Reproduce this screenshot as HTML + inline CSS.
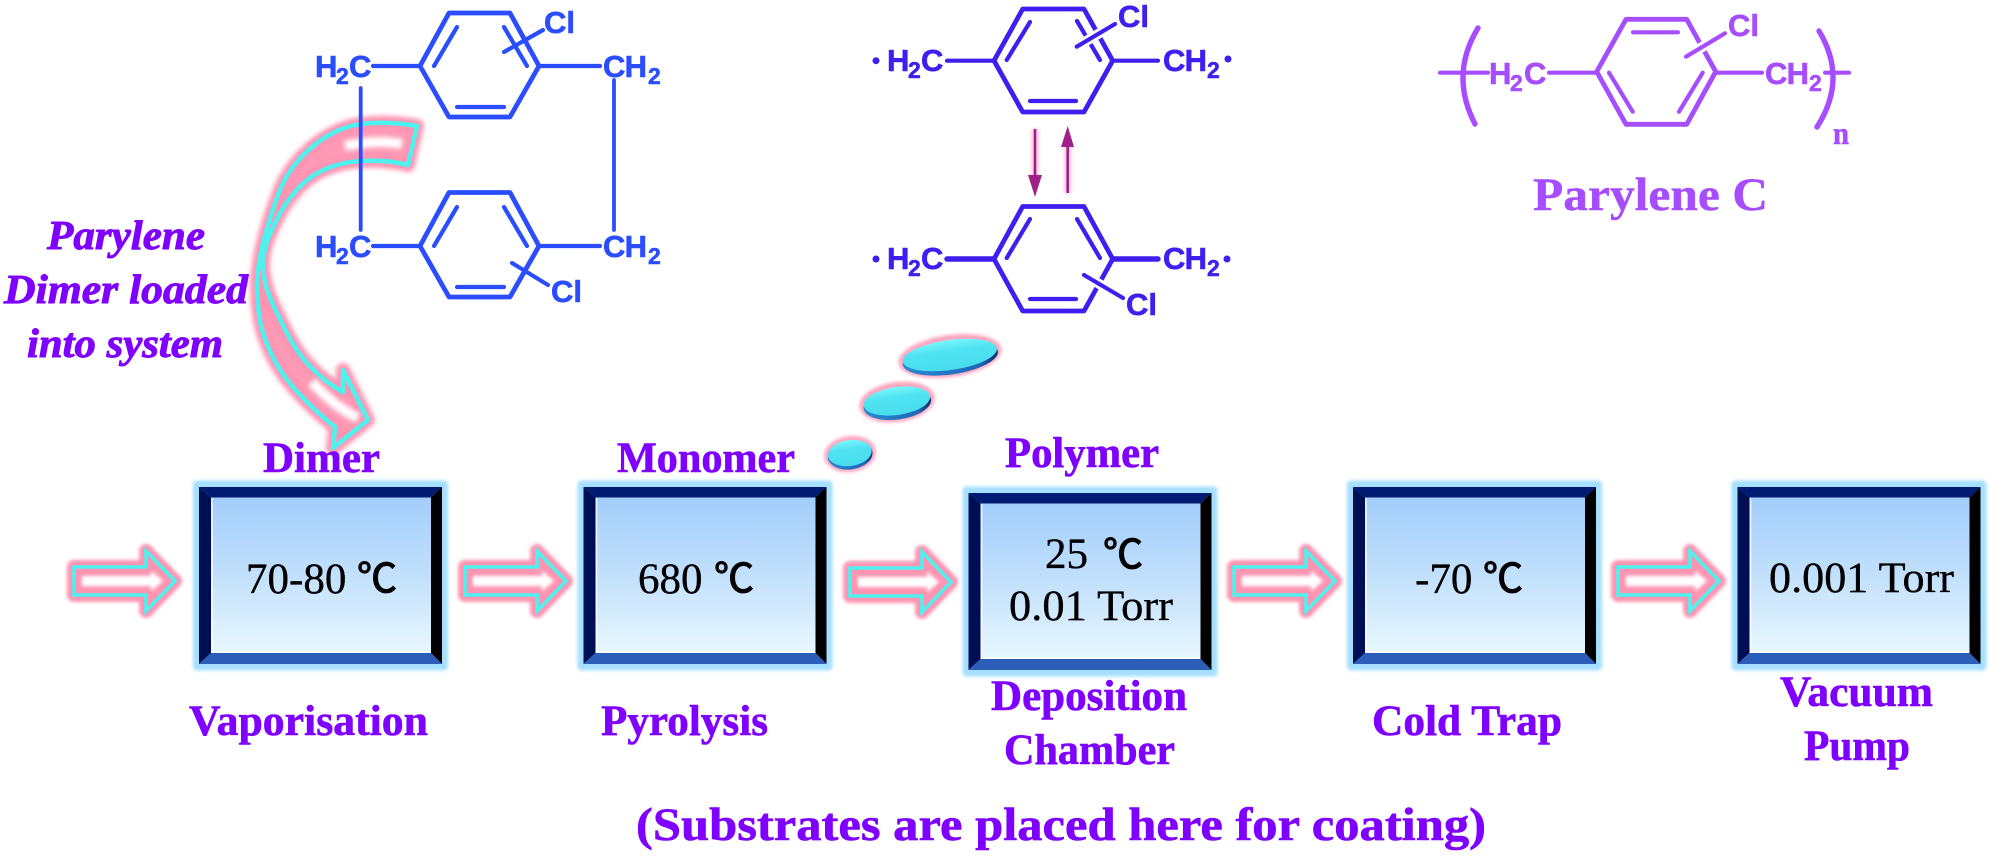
<!DOCTYPE html>
<html>
<head>
<meta charset="utf-8">
<style>
html,body{margin:0;padding:0;background:#fff;}
svg{display:block;}
.lab{font-family:"Liberation Serif",serif;font-weight:bold;font-size:43px;fill:#7f00ff;stroke:#7f00ff;stroke-width:.6px;}
.it{font-family:"Liberation Serif",serif;font-weight:bold;font-style:italic;font-size:41px;fill:#7f00ff;stroke:#7f00ff;stroke-width:.9px;}
.val{font-family:"Liberation Serif",serif;font-size:43px;fill:#000;stroke:#000;stroke-width:.35px;}
.deg{font-family:"Noto Sans CJK SC","WenQuanYi Zen Hei",sans-serif;font-size:40px;fill:#000;stroke:#000;stroke-width:1.1px;}
.chem{font-family:"Liberation Sans",sans-serif;font-weight:bold;font-size:31px;stroke-width:.6px;}
.sub{font-family:"Liberation Sans",sans-serif;font-weight:bold;font-size:23px;stroke-width:.5px;}
.cb{fill:#2a4dff;stroke:#2a4dff;} .cm{fill:#3f1fef;stroke:#3f1fef;} .cp{fill:#a64dff;stroke:#a64dff;}
</style>
</head>
<body>
<svg xmlns="http://www.w3.org/2000/svg" width="1989" height="857" viewBox="0 0 1989 857">
<defs>
<filter id="b2" filterUnits="userSpaceOnUse" x="-2000" y="-2000" width="6000" height="6000"><feGaussianBlur stdDeviation="2.5"/></filter>
<filter id="b1" filterUnits="userSpaceOnUse" x="-2000" y="-2000" width="6000" height="6000"><feGaussianBlur stdDeviation="1.5"/></filter>
<filter id="b3" filterUnits="userSpaceOnUse" x="-2000" y="-2000" width="6000" height="6000"><feGaussianBlur stdDeviation="3.5"/></filter>
<linearGradient id="boxg" x1="0" y1="0" x2="0" y2="1">
<stop offset="0" stop-color="#a2cdfb"/><stop offset="0.5" stop-color="#c2e0fc"/><stop offset="1" stop-color="#e8f7ff"/>
</linearGradient>
<linearGradient id="ov" x1="0" y1="0" x2="0" y2="1">
<stop offset="0" stop-color="#7af6fb"/><stop offset="0.35" stop-color="#50e4f2"/><stop offset="1" stop-color="#48dcee"/>
</linearGradient>
<linearGradient id="rim" x1="0" y1="0" x2="1" y2="0">
<stop offset="0" stop-color="#2a8ad0"/><stop offset=".8" stop-color="#1f66b8"/><stop offset="1" stop-color="#0a2a60"/>
</linearGradient>
<g id="box">
<rect x="-6" y="-6.5" width="255" height="190" rx="4" fill="#a5dfff" filter="url(#b1)"/>
<polygon points="0,0 243,0 232,10.5 12,10.5" fill="#001c72"/>
<polygon points="0,0 12,10.5 12,166 0,177" fill="#000f55"/>
<polygon points="243,0 243,177 232,166 232,10.5" fill="#000"/>
<polygon points="0,177 12,166 232,166 243,177" fill="#2b5db9"/>
<rect x="12" y="10.5" width="220" height="155.5" fill="url(#boxg)"/>
<path d="M13,11 V165 H231" fill="none" stroke="#fff" stroke-width="1.6" opacity=".8"/>
</g>
<g id="arr">
<path d="M-101,-14 H-29 V-30 L0,0 L-29,30 V14 H-101 Z" fill="#ff9ab6" stroke="#ff94b2" stroke-width="14" stroke-linejoin="round" filter="url(#b1)"/>
<path d="M-93,-5 H-24 V-10 L-12,0 L-24,10 V5 H-93 Z" fill="#fff" filter="url(#b1)"/>
<path d="M-101,-14 H-29 V-30 L0,0 L-29,30 V14 H-101 Z" fill="none" stroke="#4df2ee" stroke-width="3.6"/>
</g>
</defs>
<rect width="1989" height="857" fill="#fff"/>

<!-- curved arrow -->
<g>
<path d="M417,126 C395,122 378,122 361,124 C325,129 290,160 278,195 C268,222 258,255 257,283 C257,305 259,320 263,333 C270,355 280,372 293,387 C307,403 320,415 335,427 L333,448 L368,420 L343,370 L343,392 C330,385 318,375 307,363 C295,350 285,330 277,313 C268,295 263,280 263,265 C263,250 268,238 273,227 C283,205 295,190 307,180 C322,168 342,162 361,161 C378,160 392,161 408,165 Z" fill="#ff9ab6" stroke="#ff94b2" stroke-width="14" stroke-linejoin="round" filter="url(#b2)"/>
<path d="M402,144 C385,141 370,141 345,146" fill="none" stroke="#fff" stroke-width="10" filter="url(#b2)"/>
<path d="M312,382 C328,400 345,412 358,418" fill="none" stroke="#fff" stroke-width="10" filter="url(#b2)"/>
<path d="M417,126 C395,122 378,122 361,124 C325,129 290,160 278,195 C268,222 258,255 257,283 C257,305 259,320 263,333 C270,355 280,372 293,387 C307,403 320,415 335,427 L333,448 L368,420 L343,370 L343,392 C330,385 318,375 307,363 C295,350 285,330 277,313 C268,295 263,280 263,265 C263,250 268,238 273,227 C283,205 295,190 307,180 C322,168 342,162 361,161 C378,160 392,161 408,165 Z" fill="none" stroke="#4df2ee" stroke-width="4.6" stroke-linejoin="round"/>
</g>

<!-- left molecule -->
<g fill="none" stroke="#2a4dff" stroke-width="4.2" stroke-linecap="round" stroke-linejoin="round">
<polygon points="449,13 510,13 539,66 510,117 449,117 420,66" stroke-width="4.8"/>
<path d="M457,27 L434,66 M504,27 L527,66 M457,107 H504 M504,52 L543,30 M373,66 H420 M540,66 H600"/>
<path d="M360.7,88 V230 M614,80 V230" stroke-width="3.8"/>
<polygon points="449,192.5 510,192.5 539,246 510,297 449,297 420,246" stroke-width="4.8"/>
<path d="M457,207 L434,246 M504,207 L527,246 M457,287 H504 M512,263 L548,285 M373,246 H420 M540,246 H600"/>
</g>
<g class="cb">
<text class="chem" x="315" y="77" textLength="22">H</text><text class="sub" x="336" y="84">2</text><text class="chem" x="349" y="77">C</text>
<text class="chem" x="603" y="77" textLength="44">CH</text><text class="sub" x="648" y="84">2</text>
<text class="chem" x="544" y="33">Cl</text>
<text class="chem" x="315" y="257" textLength="22">H</text><text class="sub" x="336" y="264">2</text><text class="chem" x="349" y="257">C</text>
<text class="chem" x="603" y="257" textLength="44">CH</text><text class="sub" x="648" y="264">2</text>
<text class="chem" x="551" y="302">Cl</text>
</g>

<!-- middle molecule -->
<g fill="none" stroke="#3f1fef" stroke-width="4.2" stroke-linecap="round" stroke-linejoin="round">
<polygon points="1022.7,9 1084,9 1112.7,60.7 1084,112 1022.7,112 994,60.7" stroke-width="4.8"/>
<path d="M1030,22 L1006.7,60 M1077,21 L1100,60 M1030,101 H1076 M947,60.7 H994 M1113,60.7 H1158"/>
<path d="M1076.7,46.7 L1115,24" stroke="#fff" stroke-width="10" stroke-linecap="butt"/>
<path d="M1076.7,46.7 L1115,24"/>
<polygon points="1022.7,206.5 1084,206.5 1112.7,259 1084,311 1022.7,311 994,259" stroke-width="4.8"/>
<path d="M1030,219 L1006.7,258 M1077,219 L1100,258 M1030,299 H1076"/>
<path d="M1084,275 L1123,298" stroke="#fff" stroke-width="10" stroke-linecap="butt"/>
<path d="M1084,275 L1123,298"/>
<path d="M947,259 H994 M1113,259 H1158" stroke-width="5.4"/>
</g>
<g class="cm">
<circle cx="876" cy="60.7" r="3"/>
<text class="chem" x="887" y="71" textLength="22">H</text><text class="sub" x="908" y="78">2</text><text class="chem" x="921" y="71">C</text>
<text class="chem" x="1163" y="71" textLength="44">CH</text><text class="sub" x="1207" y="78">2</text>
<circle cx="1228" cy="59" r="3"/>
<text class="chem" x="1118" y="27">Cl</text>
<circle cx="876" cy="259" r="3"/>
<text class="chem" x="887" y="269" textLength="22">H</text><text class="sub" x="908" y="276">2</text><text class="chem" x="921" y="269">C</text>
<text class="chem" x="1163" y="269" textLength="44">CH</text><text class="sub" x="1207" y="276">2</text>
<circle cx="1227" cy="259" r="3"/>
<text class="chem" x="1126" y="315">Cl</text>
</g>
<g>
<path d="M1035,129 V178 M1067.7,146 V193" stroke="#ff9ac0" stroke-width="7" opacity=".6" filter="url(#b1)"/>
<path d="M1035,129 V178 M1067.7,146 V193" stroke="#a0208a" stroke-width="2.6"/>
<polygon points="1028,175 1042,175 1035,197" fill="#a0208a"/>
<polygon points="1061,147 1074,147 1067.7,126" fill="#a0208a"/>
</g>

<!-- right molecule -->
<g fill="none" stroke="#a64dff" stroke-width="4.2" stroke-linecap="round" stroke-linejoin="round">
<polygon points="1626,19.3 1686.7,19.3 1715.7,71.7 1686.7,124.3 1626,124.3 1596.7,71.7" stroke-width="4.8"/>
<path d="M1633,32.3 H1678 M1609,72.7 L1632.7,111.7 M1702.7,72.7 L1679,111.7"/>
<path d="M1686,56.7 L1725,33.3" stroke="#fff" stroke-width="10" stroke-linecap="butt"/>
<path d="M1686,56.7 L1725,33.3"/>
<path d="M1440,72.7 H1488 M1549,72.7 H1597 M1716,72.7 H1762 M1825,72.7 H1849"/>
<path d="M1478,28 Q1449.5,75 1475,124 M1819,31 Q1848,79 1817,127" stroke-width="5.4"/>
</g>
<g class="cp">
<text class="chem" x="1489" y="84" textLength="22">H</text><text class="sub" x="1510" y="91">2</text><text class="chem" x="1524" y="84">C</text>
<text class="chem" x="1765" y="84" textLength="44">CH</text><text class="sub" x="1809" y="91">2</text>
<text class="chem" x="1728" y="36">Cl</text>
<text x="1833" y="144" font-family="Liberation Serif, serif" font-weight="bold" font-size="32" stroke-width=".6" textLength="16" lengthAdjust="spacingAndGlyphs">n</text>
<text x="1533" y="210" font-family="Liberation Serif, serif" font-weight="bold" font-size="47" stroke-width=".4" textLength="235" lengthAdjust="spacingAndGlyphs">Parylene C</text>
</g>

<!-- ovals -->
<g>
<g transform="rotate(-8 950 356)">
<ellipse cx="950" cy="356" rx="52" ry="21" fill="#ffa6c0" filter="url(#b1)"/>
<ellipse cx="950" cy="358" rx="48" ry="16.5" fill="url(#rim)"/>
<ellipse cx="950" cy="355" rx="47.5" ry="15" fill="url(#ov)"/>
</g>
<g transform="rotate(-8 897 402)">
<ellipse cx="897" cy="402" rx="38" ry="20" fill="#ffa6c0" filter="url(#b1)"/>
<ellipse cx="897" cy="404" rx="34" ry="15.5" fill="url(#rim)"/>
<ellipse cx="897" cy="401" rx="33.5" ry="14" fill="url(#ov)"/>
</g>
<g transform="rotate(-8 850 454)">
<ellipse cx="850" cy="454" rx="26" ry="18" fill="#ffa6c0" filter="url(#b1)"/>
<ellipse cx="850" cy="455" rx="22.5" ry="14.5" fill="url(#rim)"/>
<ellipse cx="850" cy="453" rx="22" ry="13" fill="url(#ov)"/>
</g>
</g>

<!-- boxes -->
<use href="#box" x="199" y="487"/>
<use href="#box" x="583.5" y="487"/>
<use href="#box" x="968.5" y="493"/>
<use href="#box" x="1353" y="487"/>
<use href="#box" x="1737.5" y="487"/>

<!-- arrows -->
<use href="#arr" x="175" y="581"/>
<use href="#arr" x="566" y="581"/>
<use href="#arr" x="951" y="582"/>
<use href="#arr" x="1335" y="581"/>
<use href="#arr" x="1719" y="581"/>

<!-- box values -->
<text class="val" x="246" y="593">70-80</text>
<text class="deg" x="357" y="592">℃</text>
<text class="val" x="638" y="593">680</text>
<text class="deg" x="714" y="592">℃</text>
<text class="val" x="1045" y="568">25</text>
<text class="deg" x="1103" y="568">℃</text>
<text class="val" x="1009" y="620" textLength="164" lengthAdjust="spacingAndGlyphs">0.01 Torr</text>
<text class="val" x="1415" y="593">-70</text>
<text class="deg" x="1483" y="592">℃</text>
<text class="val" x="1769" y="592" textLength="185" lengthAdjust="spacingAndGlyphs">0.001 Torr</text>

<!-- labels -->
<text class="lab" x="263" y="472">Dimer</text>
<text class="lab" x="617" y="472" textLength="178" lengthAdjust="spacingAndGlyphs">Monomer</text>
<text class="lab" x="1005" y="467" textLength="154" lengthAdjust="spacingAndGlyphs">Polymer</text>
<text class="lab" x="189" y="735" textLength="239" lengthAdjust="spacingAndGlyphs">Vaporisation</text>
<text class="lab" x="601" y="735" textLength="167" lengthAdjust="spacingAndGlyphs">Pyrolysis</text>
<text class="lab" x="991" y="710" textLength="196" lengthAdjust="spacingAndGlyphs">Deposition</text>
<text class="lab" x="1004" y="764" textLength="171" lengthAdjust="spacingAndGlyphs">Chamber</text>
<text class="lab" x="1372" y="735" textLength="190" lengthAdjust="spacingAndGlyphs">Cold Trap</text>
<text class="lab" x="1780" y="706" textLength="153" lengthAdjust="spacingAndGlyphs">Vacuum</text>
<text class="lab" x="1804" y="760" textLength="106" lengthAdjust="spacingAndGlyphs">Pump</text>
<text class="lab" x="636" y="840" style="font-size:47px" textLength="850" lengthAdjust="spacingAndGlyphs">(Substrates are placed here for coating)</text>

<text class="it" x="47" y="249" textLength="158" lengthAdjust="spacingAndGlyphs">Parylene</text>
<text class="it" x="4" y="303" textLength="244" lengthAdjust="spacingAndGlyphs">Dimer loaded</text>
<text class="it" x="27" y="357" textLength="196" lengthAdjust="spacingAndGlyphs">into system</text>
</svg>
</body>
</html>
